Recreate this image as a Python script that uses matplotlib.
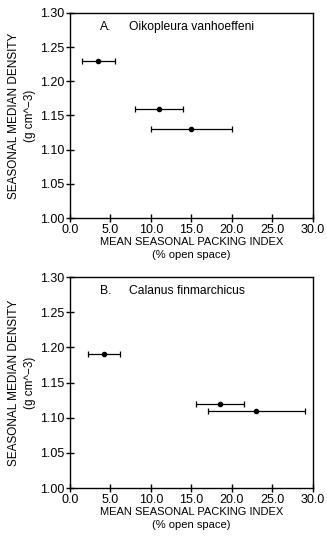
import matplotlib
matplotlib.use("Agg")
import matplotlib.pyplot as plt

plt.rcParams['font.family'] = ['Liberation Sans', 'DejaVu Sans']

# Panel A: Oikopleura vanhoeffeni
a_x = [3.5, 11.0, 15.0]
a_y = [1.23, 1.16, 1.13]
a_xlo = [1.5, 8.0, 10.0]
a_xhi = [5.5, 14.0, 20.0]

# Panel B: Calanus finmarchicus
b_x = [4.2, 18.5, 23.0]
b_y = [1.19, 1.12, 1.11]
b_xlo = [2.2, 15.5, 17.0]
b_xhi = [6.2, 21.5, 29.0]

xticks = [0.0, 5.0, 10.0, 15.0, 20.0, 25.0, 30.0]
yticks = [1.00, 1.05, 1.10, 1.15, 1.20, 1.25, 1.30]

fig = plt.figure(figsize=(3.27, 5.37), dpi=100)
axA = fig.add_axes([0.214, 0.594, 0.743, 0.382])
axB = fig.add_axes([0.214, 0.091, 0.743, 0.393])

panels = [
    (axA, a_x, a_y, a_xlo, a_xhi, "A.", "Oikopleura vanhoeffeni"),
    (axB, b_x, b_y, b_xlo, b_xhi, "B.", "Calanus finmarchicus"),
]

for ax, x, y, lo, hi, tag, name in panels:
    xerr = [[xi - l for xi, l in zip(x, lo)], [h - xi for xi, h in zip(x, hi)]]
    ax.errorbar(x, y, xerr=xerr, fmt='o', color='black', ms=3,
                elinewidth=0.9, capsize=2, capthick=0.9)
    ax.set_xlim(0, 30)
    ax.set_ylim(1.0, 1.3)
    ax.set_xticks(xticks)
    ax.set_xticklabels([f"{t:.1f}" for t in xticks])
    ax.set_yticks(yticks)
    ax.set_yticklabels([f"{t:.2f}" for t in yticks])
    ax.tick_params(direction='inout', length=6, width=1, labelsize=9, pad=1)
    for s in ax.spines.values():
        s.set_linewidth(1.0)
    ax.set_xlabel("MEAN SEASONAL PACKING INDEX\n(% open space)", fontsize=8,
                  labelpad=1, linespacing=1.35)
    ax.set_ylabel("SEASONAL MEDIAN DENSITY\n(g cm^\u22123)", fontsize=8.5,
                  labelpad=3, linespacing=1.4)
    ax.text(3.7, 1.28, tag, fontsize=8.7, ha='left', va='center')
    ax.text(7.3, 1.28, name, fontsize=8.7, ha='left', va='center')

fig.savefig("out.png", dpi=100)
